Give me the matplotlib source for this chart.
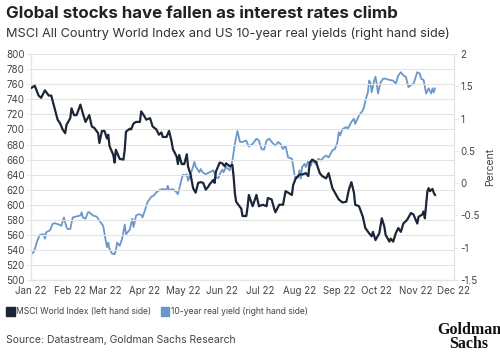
import numpy as np
import pandas as pd
import matplotlib
matplotlib.use("Agg")
import matplotlib.pyplot as plt
from matplotlib.patches import Rectangle

plt.rcParams["font.family"] = ["Inter", "DejaVu Sans"]

# MSCI ACWI (left axis), day offset from 1 Jan 2022
msci_days = [0, 3, 6, 8, 11, 14, 16, 19, 21, 23, 25, 27, 28, 31, 32, 34, 36, 39, 41, 43,
             46, 48, 50, 53, 54, 56, 58, 60, 61, 62, 65, 66, 67, 70, 73, 74, 75, 78, 79, 81,
             83, 86, 87, 89, 91, 94, 96, 99, 101, 103, 104, 107, 109, 111, 112, 115, 116, 117, 119, 121,
             123, 124, 126, 128, 130, 132, 134, 136, 138, 140, 141, 144, 145, 146, 149, 151, 153, 154, 157, 159,
             160, 161, 162, 165, 166, 167, 170, 171, 172, 175, 178, 180, 183, 186, 187, 190, 192, 193,
             196, 199, 201, 203, 206, 207, 209, 212, 214, 217, 219, 220, 222, 225, 228, 230, 233, 235,
             238, 241, 243, 246, 249, 251, 253, 255, 256, 259, 262, 264, 267, 269, 270, 272, 275, 277,
             279, 280, 283, 284, 286, 288, 290, 292, 294, 297, 300, 302, 305, 306, 309, 310, 311, 313,
             314, 315, 317, 318, 319]
msci_vals = [755, 758, 745, 742, 752, 745, 745, 726, 713, 708, 700, 695, 706, 715, 728, 719, 719, 733, 721, 710,
             719, 704, 702, 695, 682, 698, 698, 688, 693, 678, 666, 656, 673, 661, 660, 673, 697, 701, 700, 708,
             710, 710, 724, 719, 713, 715, 704, 700, 693, 696, 690, 690, 698, 684, 674, 664, 654, 666, 654, 654,
             667, 651, 640, 622, 616, 629, 630, 629, 620, 624, 627, 633, 629, 644, 656, 655, 651, 655, 651, 653,
             637, 615, 604, 597, 595, 585, 585, 597, 613, 598, 613, 598, 600, 598, 609, 607, 595, 590,
             600, 600, 618, 616, 613, 626, 635, 640, 640, 642, 638, 655, 660, 657, 642, 638, 635, 642,
             622, 613, 607, 603, 604, 620, 630, 616, 600, 598, 584, 569, 562, 558, 564, 553, 562, 582,
             571, 560, 551, 555, 551, 562, 569, 564, 575, 580, 589, 587, 575, 584, 587, 591, 582, 618,
             622, 618, 621, 616, 613]

# US 10-year real yield, % (right axis)
yield_days = [0, 2, 3, 5, 7, 10, 11, 12, 15, 17, 19, 22, 24, 26, 28, 29, 31, 33, 35, 39,
              40, 41, 43, 45, 46, 49, 52, 54, 57, 59, 60, 61, 62, 64, 66, 67, 68, 70, 72, 74,
              75, 78, 80, 81, 83, 85, 87, 88, 90, 92, 95, 97, 99, 102, 104, 107, 108, 109, 112, 115,
              116, 117, 119, 120, 122, 123, 124, 126, 128, 129, 130, 133, 134, 136, 138, 141, 144, 146, 148, 149,
              151, 152, 154, 157, 158, 159, 161, 163, 165, 167, 170, 171, 172, 175, 178, 180, 182, 184,
              186, 188, 190, 193, 195, 197, 199, 201, 203, 206, 208, 209, 211, 212, 213, 214, 216, 217,
              219, 221, 222, 225, 227, 229, 231, 233, 235, 238, 240, 242, 243, 244, 246, 249, 250, 253,
              255, 256, 259, 262, 263, 264, 266, 267, 268, 269, 271, 272, 273, 274, 276, 278, 280, 283,
              286, 288, 290, 292, 294, 296, 298, 300, 302, 305, 307, 308, 310, 312, 314, 316, 317, 318, 319]
yield_vals = [-1.10, -1.07, -1.02, -0.89, -0.80, -0.79, -0.86, -0.76, -0.73, -0.63, -0.62, -0.64, -0.66, -0.53, -0.68, -0.71, -0.71, -0.53, -0.52, -0.50,
              -0.45, -0.53, -0.55, -0.45, -0.45, -0.50, -0.52, -0.58, -0.66, -0.89, -0.99, -0.92, -1.02, -1.09, -1.10, -1.04, -0.92, -0.97, -0.86, -0.64,
              -0.79, -0.72, -0.55, -0.68, -0.50, -0.48, -0.49, -0.53, -0.42, -0.29, -0.21, -0.19, -0.14, -0.10, -0.09, -0.10, -0.04, -0.11, -0.09, -0.14,
              -0.17, -0.09, 0.07, 0.13, 0.12, 0.14, 0.04, 0.14, 0.26, 0.33, 0.26, 0.17, 0.22, 0.16, 0.14, 0.17, 0.20, 0.09, 0.08, 0.14,
              0.21, 0.17, 0.25, 0.20, 0.27, 0.35, 0.61, 0.81, 0.64, 0.64, 0.66, 0.61, 0.57, 0.61, 0.69, 0.66, 0.53, 0.52,
              0.66, 0.69, 0.64, 0.58, 0.64, 0.61, 0.53, 0.58, 0.40, 0.38, 0.14, 0.07, 0.09, 0.20, 0.07, 0.25, 0.30, 0.25,
              0.35, 0.27, 0.35, 0.30, 0.38, 0.35, 0.40, 0.43, 0.40, 0.51, 0.53, 0.64, 0.79, 0.74, 0.84, 0.87, 0.84, 0.95,
              1.00, 0.92, 1.05, 1.13, 1.18, 1.28, 1.41, 1.59, 1.56, 1.41, 1.59, 1.65, 1.54, 1.39, 1.56, 1.62, 1.62, 1.60,
              1.59, 1.54, 1.67, 1.72, 1.67, 1.65, 1.49, 1.52, 1.54, 1.72, 1.70, 1.62, 1.60, 1.39, 1.47, 1.39, 1.47, 1.41, 1.47]

month_labels = ["Jan 22", "Feb 22", "Mar 22", "Apr 22", "May 22", "Jun 22",
                "Jul 22", "Aug 22", "Sep 22", "Oct 22", "Nov 22", "Dec 22"]

start = pd.Timestamp("2022-01-01")
msci_dates = start + pd.to_timedelta(msci_days, unit="D")
yield_dates = start + pd.to_timedelta(yield_days, unit="D")
month_ticks = pd.date_range("2022-01-01", periods=12, freq="MS")

navy = "#1b2638"
blue = "#6b98cb"
grid_c = "#e3e3e3"
tick_c = "#444444"

fig = plt.figure(figsize=(5.0, 3.54), dpi=100)
ax = fig.add_axes([0.062, 0.209, 0.846, 0.638])
ax2 = ax.twinx()

ax.plot(msci_dates, msci_vals, color=navy, lw=1.6, zorder=3)
ax2.plot(yield_dates, yield_vals, color=blue, lw=1.3, zorder=2)
ax.set_zorder(ax2.get_zorder() + 1)
ax.patch.set_visible(False)

ax.set_ylim(500, 800)
ax.set_yticks(np.arange(500, 801, 20))
ax2.set_ylim(-1.5, 2)
ax2.set_yticks(np.arange(-1.5, 2.01, 0.5))
ax2.set_yticklabels(["-1.5", "-1", "-0.5", "0", "0.5", "1", "1.5", "2"])
ax.set_xlim(start, pd.Timestamp("2022-12-01"))
ax.set_xticks(month_ticks)
ax.set_xticklabels(month_labels)
ax.grid(axis="y", color=grid_c, lw=0.8)
ax.set_axisbelow(True)

for a in (ax, ax2):
    for s in a.spines.values():
        s.set_color(grid_c)
        s.set_linewidth(0.8)
    a.spines["top"].set_visible(False)
    a.tick_params(colors=grid_c, labelcolor=tick_c, labelsize=7, length=3, width=0.6, pad=1.5)
ax.tick_params(axis="x", length=0, pad=4)

ax2.set_ylabel("Percent", fontsize=7.5, color=tick_c, labelpad=4)

fig.text(0.012, 0.962, "Global stocks have fallen as interest rates climb", fontsize=12.2,
         fontweight="bold", color="#222222", va="center")
fig.text(0.012, 0.905, "MSCI All Country World Index and US 10-year real yields (right hand side)",
         fontsize=9.2, color="#333333", va="center")

# legend
fig.patches.append(Rectangle((0.012, 0.107), 0.017, 0.026, transform=fig.transFigure,
                             color=navy, figure=fig))
fig.text(0.033, 0.12, "MSCI World Index (left hand side)", fontsize=6.2, color=tick_c, va="center")
fig.patches.append(Rectangle((0.321, 0.107), 0.017, 0.026, transform=fig.transFigure,
                             color=blue, figure=fig))
fig.text(0.342, 0.12, "10-year real yield (right hand side)", fontsize=6.2, color=tick_c, va="center")

fig.text(0.012, 0.04, "Source: Datastream, Goldman Sachs Research", fontsize=7.5, color=tick_c,
         va="center")
fig.text(0.938, 0.006, "Goldman\nSachs", fontsize=11.5, fontweight="bold", color="#111111",
         family="Liberation Serif", ha="center", va="bottom", linespacing=0.8)

fig.savefig("out.png", dpi=100)
